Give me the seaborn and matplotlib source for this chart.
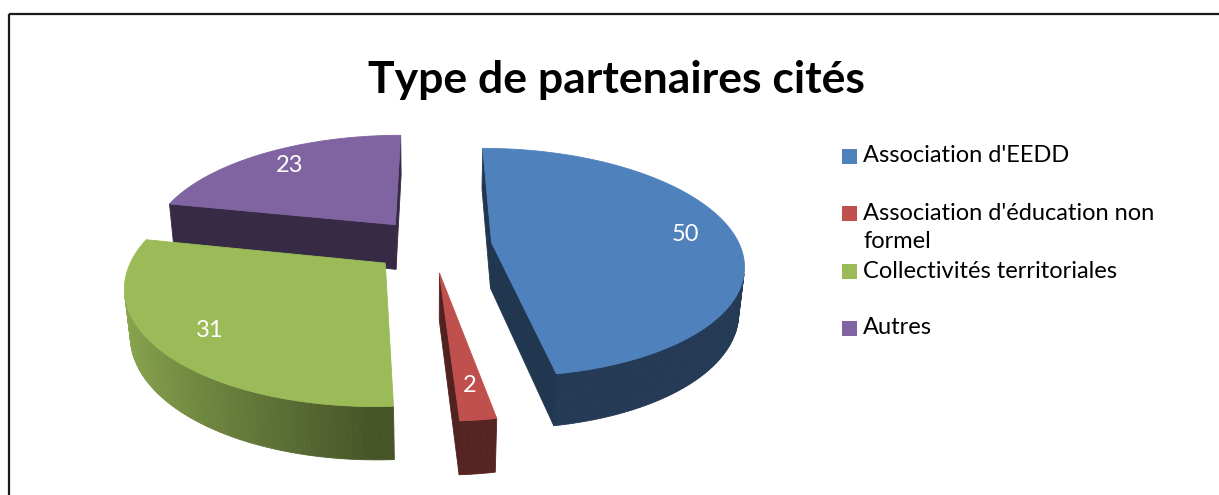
import numpy as np
import matplotlib
matplotlib.use("Agg")
import matplotlib.pyplot as plt
from matplotlib.patches import Rectangle
import seaborn as sns

# ---- data -------------------------------------------------------------
categories = [
    "Association d'EEDD",
    "Association d'éducation non\nformel",
    "Collectivités territoriales",
    "Autres",
]
counts = [50, 2, 31, 23]
slice_colors = ["#4F81BD", "#C0504D", "#9BBB59", "#8064A2"]
title_text = "Type de partenaires cités"

# ---- style ------------------------------------------------------------
sns.set_theme(style="white")
plt.rcParams["font.family"] = ["Lato", "DejaVu Sans"]
palette = sns.color_palette(slice_colors)

W, H = 1219, 495
fig = plt.figure(figsize=(W / 100, H / 100), dpi=100)
fig.patch.set_facecolor("white")
ax = fig.add_axes([0, 0, 1, 1])
ax.set_xlim(0, W)
ax.set_ylim(H, 0)
ax.axis("off")

# ---- 3D pie geometry (radius 1, viewed from above in perspective) ------
TILT = np.radians(26.7)   # camera elevation
DIST = 5.14               # camera distance in radii
THICK = 0.21              # slab thickness
EXPLODE = 0.242           # offset of every slice along its bisector
LABEL_R = 0.8             # label distance from a slice's apex
CX, CY, SCALE = 432, 245, 248   # where the pie sits on the canvas


def project(x, y, z):
    """Perspective projection to canvas pixels (y = away from viewer, z = up)."""
    x, y, z = np.asarray(x, float), np.asarray(y, float), np.asarray(z, float)
    k = DIST / (DIST + y * np.cos(TILT) - z * np.sin(TILT))
    sx = x * k
    sy = (y * np.sin(TILT) + z * np.cos(TILT)) * k
    return CX + SCALE * sx, CY - SCALE * sy


def shade(rgb, f):
    return tuple(np.clip(np.asarray(rgb) * f, 0, 1))


def draw_face(points, color, z):
    pts = np.asarray(points, float)
    xs, ys = project(pts[:, 0], pts[:, 1], pts[:, 2])
    # canvas y points down, so a face seen from outside turns counter-clockwise here
    area = 0.5 * np.sum(xs * np.roll(ys, -1) - np.roll(xs, -1) * ys)
    if area > 0:
        ax.fill(xs, ys, facecolor=color, edgecolor=color, linewidth=0.6,
                zorder=z, antialiased=True)


total = float(sum(counts))
bounds = np.concatenate([[0], np.cumsum(counts)]) / total * 2 * np.pi

slices = []
for i, value in enumerate(counts):
    a0, a1 = bounds[i], bounds[i + 1]
    mid = 0.5 * (a0 + a1)
    ox, oy = EXPLODE * np.sin(mid), EXPLODE * np.cos(mid)
    slices.append(dict(i=i, a0=a0, a1=a1, mid=mid, ox=ox, oy=oy))

# far slices first so nearer ones cover them
order = sorted(slices, key=lambda s: -s["oy"])
for rank, s in enumerate(order):
    base = palette[s["i"]]
    ox, oy, a0, a1 = s["ox"], s["oy"], s["a0"], s["a1"]
    zbase = 2 + rank * 3
    n = max(2, int(np.degrees(a1 - a0) / 1.0))
    ts = np.linspace(a0, a1, n + 1)

    def rim(t, z):
        return (ox + np.sin(t), oy + np.cos(t), z)

    apex_top, apex_bot = (ox, oy, 0.0), (ox, oy, -THICK)

    # outer curved wall, lit from the left
    for t0, t1 in zip(ts[:-1], ts[1:]):
        tm = 0.5 * (t0 + t1)
        f = 0.45 + 0.45 * max(0.0, -np.sin(tm))
        draw_face([rim(t0, 0), rim(t0, -THICK), rim(t1, -THICK), rim(t1, 0)],
                  shade(base, f), zbase)

    # the two cut faces
    cut = shade(base, 0.42)
    draw_face([apex_top, apex_bot, rim(a0, -THICK), rim(a0, 0)], cut, zbase)
    draw_face([apex_top, rim(a1, 0), rim(a1, -THICK), apex_bot], cut, zbase)

    # top face
    top = [apex_top] + [rim(t, 0) for t in ts]
    draw_face(top, base, zbase + 1)

    # value label on the top face
    lx, ly = project(ox + LABEL_R * np.sin(s["mid"]),
                     oy + LABEL_R * np.cos(s["mid"]), 0.0)
    ax.text(lx, ly, f"{counts[s['i']]}", color="white", fontsize=17,
            ha="center", va="center", zorder=zbase + 2)

# ---- title ------------------------------------------------------------
ax.text(616, 80, title_text, fontsize=32, fontweight="bold", color="black",
        ha="center", va="center", zorder=30)

# ---- legend -----------------------------------------------------------
legend_rows = [156, 213, 271, 328]
line_gap = 29
for i, (label, yc) in enumerate(zip(categories, legend_rows)):
    ax.add_patch(Rectangle((842, yc - 7.5), 15, 15, facecolor=palette[i],
                           edgecolor="none", zorder=30))
    for j, line in enumerate(label.split("\n")):
        ax.text(863, yc + j * line_gap, line, fontsize=17, color="black",
                ha="left", va="center", zorder=30)

# ---- chart frame (extends past the right and bottom edges) -------------
ax.add_patch(Rectangle((9, 14), W + 40, H + 40, fill=False,
                       edgecolor="#1a1a1a", linewidth=1.6, zorder=40,
                       clip_on=False))

fig.savefig("out.png", dpi=100, facecolor="white")
